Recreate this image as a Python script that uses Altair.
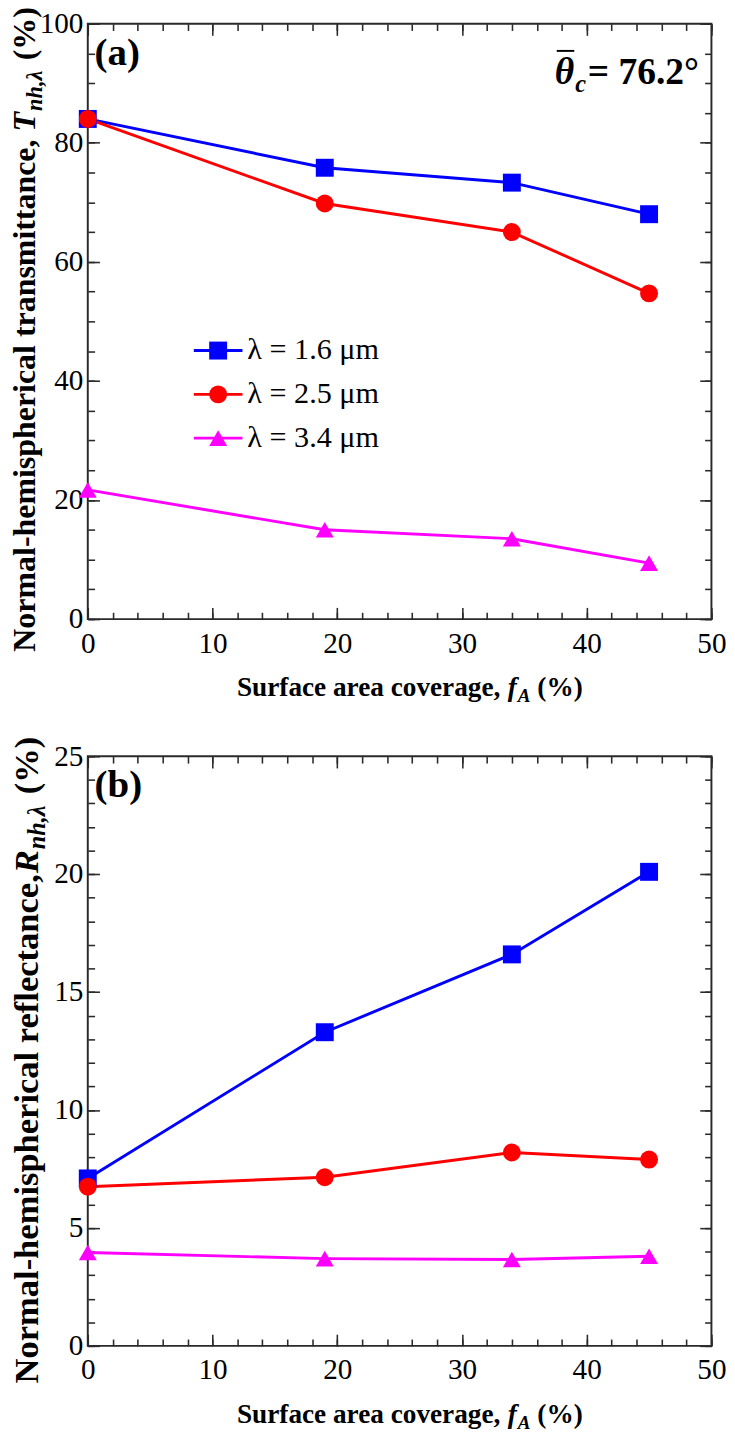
import altair as alt
import pandas as pd

# ---------------- data ----------------
coverage = [0, 19, 34, 45]
T_16 = [84.0, 75.8, 73.3, 68.0]
T_25 = [84.0, 69.8, 65.0, 54.7]
T_34 = [21.7, 15.0, 13.5, 9.4]
R_16 = [7.1, 13.3, 16.6, 20.1]
R_25 = [6.75, 7.15, 8.2, 7.9]
R_34 = [3.96, 3.7, 3.66, 3.8]
series = ["λ = 1.6 μm", "λ = 2.5 μm", "λ = 3.4 μm"]
colors = ["#0000ff", "#ff0000", "#ff00ff"]
shapes = ["square", "circle", "triangle-up"]

x_major = list(range(0, 51, 10))
x_minor = list(range(0, 51, 2))
Ta_major = list(range(0, 101, 20))
Ta_minor = list(range(0, 101, 5))
Rb_major = list(range(0, 26, 5))
Rb_minor = list(range(0, 26, 1))

FONT = "Liberation Serif"
INK = "#2a2a2a"
DUMMY = pd.DataFrame({"d": [0]})

TSX = 28         # x title font size
LAB = 30         # tick label size


def frame(vals_list):
    rows = []
    for s, vals in zip(series, vals_list):
        for x, v in zip(coverage, vals):
            rows.append({"x": x, "y": v, "s": s})
    return pd.DataFrame(rows)


def label(text, x, y, size, weight="bold", style="normal", align="left",
          angle=0, baseline="alphabetic", color="black"):
    return alt.Chart(DUMMY).mark_text(
        text=text, font=FONT, fontSize=size, fontWeight=weight, fontStyle=style,
        align=align, baseline=baseline, angle=angle, color=color
    ).encode(x=alt.value(x), y=alt.value(y))


def x_title(W, H):
    s = TSX
    sub = 0.7 * s
    sp = 0.25 * s
    w1 = 9.691 * s
    fw = 0.333 * s
    aw = 0.667 * sub
    pw = 1.666 * s
    total = w1 + sp + fw + aw + sp + pw
    x0 = W / 2 - total / 2 + 10
    yb = H + 79
    xf = x0 + w1 + sp
    xa = xf + fw + 1
    xp = xa + aw + sp
    return [
        label("Surface area coverage,", x0, yb, s),
        label("f", xf, yb, s, style="italic"),
        label("A", xa, yb + 6, sub, style="italic"),
        label("(%)", xp, yb, s),
    ]


def y_title(text1, w1em, letter, letter_w, ytop, xb, s):
    sub = 0.7 * s
    sp = 0.25 * s
    w1 = w1em * s
    lw = letter_w * s
    sw = 1.91 * sub
    pw = 1.666 * s
    yp = ytop + pw
    ys = yp + sp + sw
    yl = ys + 1 + lw
    y0 = yl + sp + w1
    return [
        label(text1, xb, y0, s, angle=270),
        label(letter, xb, yl, s, style="italic", angle=270),
        label("nh,λ", xb + 0.2 * s, ys, sub, style="italic", angle=270),
        label("(%)", xb, yp, s, angle=270),
    ]


def panel(vals, ymax, ymaj, ymin, W, H, extra):
    df = frame(vals)
    xsc = alt.Scale(domain=[0, 50], nice=False, zero=False)
    ysc = alt.Scale(domain=[0, ymax], nice=False, zero=False)
    col = alt.Color("s:N", scale=alt.Scale(domain=series, range=colors), legend=None)
    shp = alt.Shape("s:N", scale=alt.Scale(domain=series, range=shapes), legend=None)
    lab = dict(labels=True, ticks=False, tickSize=0, domain=False, grid=False, title=None,
               labelFont=FONT, labelFontSize=LAB, labelColor="black", labelFlush=False,
               labelOverlap=False)

    def tk(orient, values, size, offset):
        return alt.Axis(orient=orient, values=values, labels=False, ticks=True, tickSize=size,
                        tickWidth=1.6, tickColor=INK, domain=False, grid=False, title=None,
                        offset=offset)

    base = alt.Chart(df)
    g1 = base.mark_point(opacity=0).encode(
        x=alt.X("x:Q", scale=xsc, axis=tk("top", x_minor, 7, -H)),
        y=alt.Y("y:Q", scale=ysc, axis=tk("right", ymin, 7, -W)))
    g2 = base.mark_point(opacity=0).encode(
        x=alt.X("x:Q", scale=xsc, axis=tk("bottom", x_minor, 7, -H)),
        y=alt.Y("y:Q", scale=ysc, axis=tk("left", ymin, 7, -W)))
    g3 = base.mark_point(opacity=0).encode(
        x=alt.X("x:Q", scale=xsc, axis=tk("bottom", x_major, 12, -H)),
        y=alt.Y("y:Q", scale=ysc, axis=tk("left", ymaj, 12, -W)))
    lines = base.mark_line(strokeWidth=3).encode(
        x=alt.X("x:Q", scale=xsc, axis=alt.Axis(orient="bottom", values=x_major,
                                                labelPadding=10, **lab)),
        y=alt.Y("y:Q", scale=ysc, axis=alt.Axis(orient="left", values=ymaj,
                                                labelPadding=5, **lab)),
        color=col)
    pts = base.mark_point(filled=True, size=340, opacity=1).encode(
        x=alt.X("x:Q", scale=xsc, axis=tk("top", x_major, 12, -H)),
        y=alt.Y("y:Q", scale=ysc, axis=tk("right", ymaj, 12, -W)),
        color=col, shape=shp)
    layers = [g1, g2, g3, lines, pts] + extra
    return alt.layer(*layers).resolve_axis(x="independent", y="independent").properties(
        width=W, height=H)


# ---------------- panel (a) ----------------
Wa, Ha = 641, 612
legend_layers = []
for i, (s, c, sh) in enumerate(zip(series, colors, shapes)):
    yy = 336 + 45 * i
    legend_layers.append(alt.Chart(DUMMY).mark_rule(color=c, strokeWidth=3).encode(
        x=alt.value(109), x2=alt.value(159), y=alt.value(yy)))
    legend_layers.append(alt.Chart(DUMMY).mark_point(
        filled=True, shape=sh, size=340, color=c, opacity=1).encode(
        x=alt.value(134), y=alt.value(yy)))
    legend_layers.append(label(s, 164, yy, 31, weight="normal", baseline="middle"))

extra_a = legend_layers + x_title(Wa, Ha) + y_title(
    "Normal-hemispherical transmittance,", 16.053, "T", 0.611, -17, -54, 32.8) + [
    label("(a)", 7, 42, 40),
    label("θ", 500, 62, 38.5, style="italic", align="right"),
    label("c", 501, 70, 25, style="italic"),
    label("= 76.2°", 514, 62, 38.5),
    alt.Chart(DUMMY).mark_rule(color="black", strokeWidth=2).encode(
        x=alt.value(482), x2=alt.value(500), y=alt.value(28)),
]
panel_a = panel([T_16, T_25, T_34], 100, Ta_major, Ta_minor, Wa, Ha, extra_a)

# ---------------- panel (b) ----------------
Wb, Hb = 641, 606
extra_b = x_title(Wb, Hb) + y_title(
    "Normal-hemispherical reflectance,", 14.524, "R", 0.667, -20, -51.5, 35.5) + [
    label("(b)", 7, 42, 40),
]
panel_b = panel([R_16, R_25, R_34], 25, Rb_major, Rb_minor, Wb, Hb, extra_b)

chart = alt.vconcat(panel_a, panel_b, spacing=29).properties(
    padding={"top": -22, "left": 0, "right": 0, "bottom": 0}, background="white"
).configure_view(stroke=INK, strokeWidth=2)

chart.save("out.html", embed_options={"renderer": "svg", "actions": False})
